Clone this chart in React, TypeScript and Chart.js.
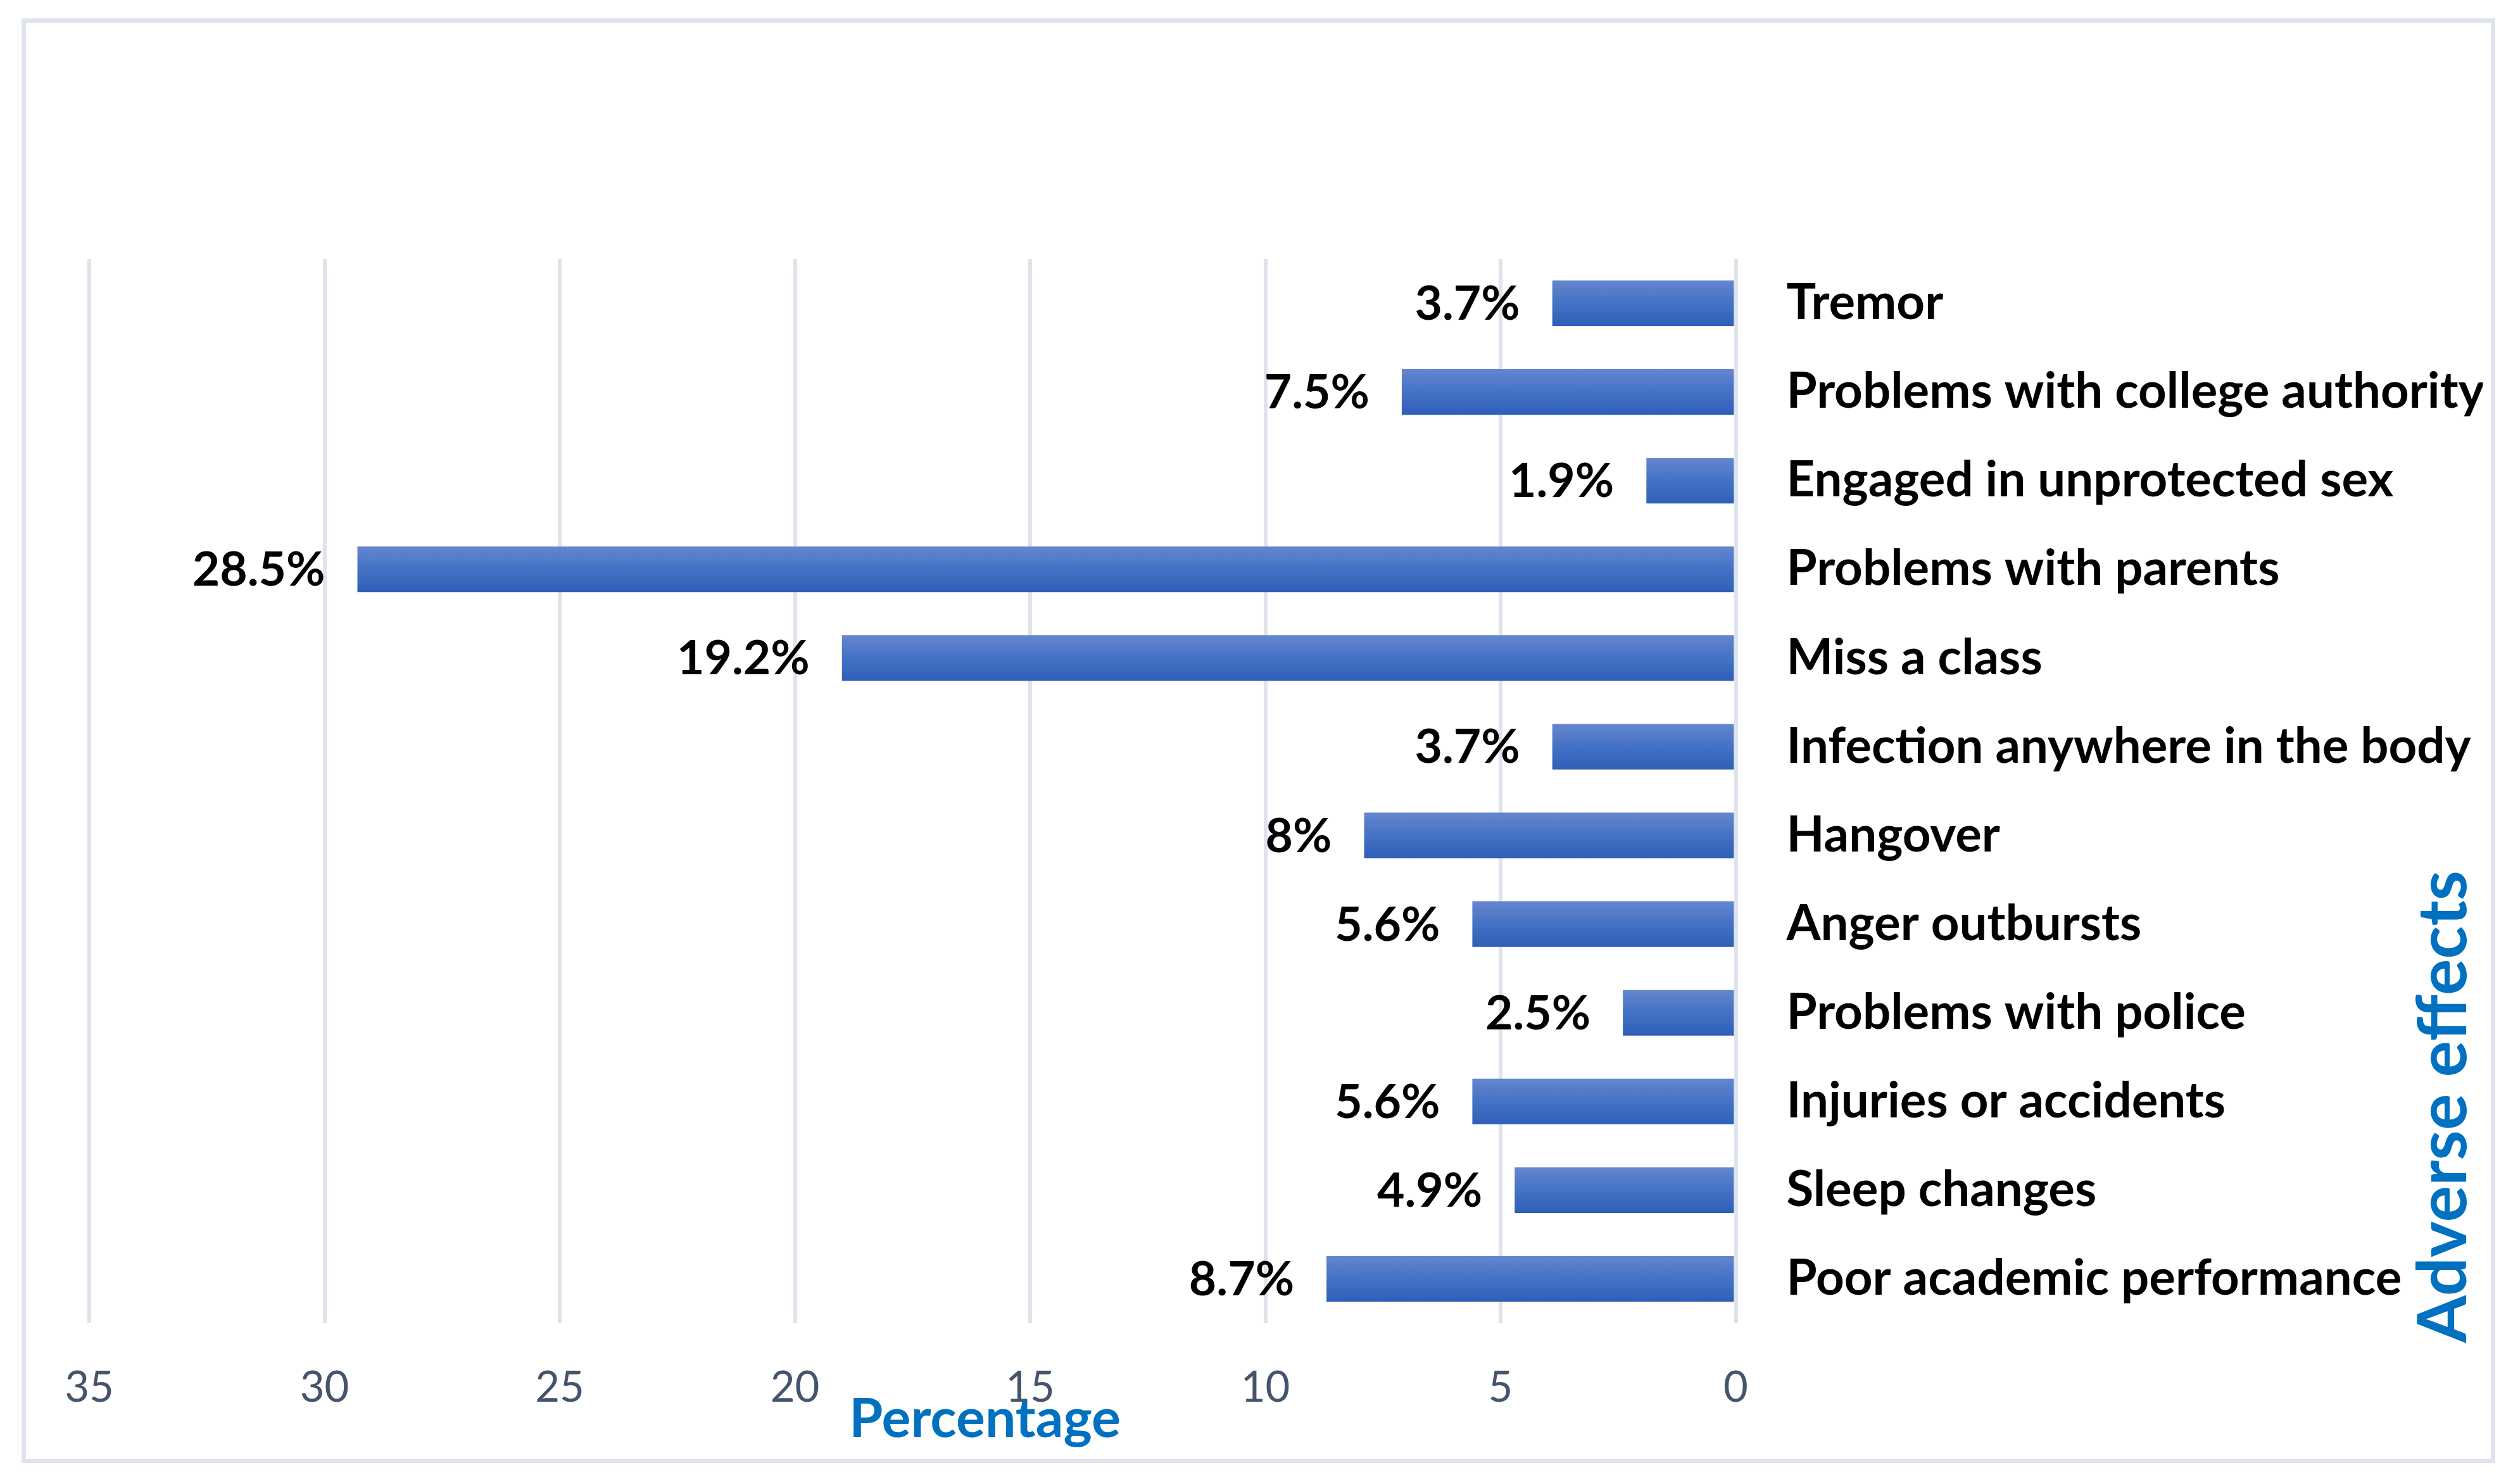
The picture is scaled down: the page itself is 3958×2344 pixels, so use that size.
import { useRef, useEffect } from "react";
import { Chart, registerables } from "chart.js";

Chart.register(...registerables);

// categories, top to bottom
const effects: string[] = [
  "Tremor",
  "Problems with college authority",
  "Engaged in unprotected sex",
  "Problems with parents",
  "Miss a class",
  "Infection anywhere in the body",
  "Hangover",
  "Anger outbursts",
  "Problems with police",
  "Injuries or accidents",
  "Sleep changes",
  "Poor academic performance",
];

// bar lengths as drawn in the picture
const barValues: number[] = [3.9, 7.1, 1.9, 29.3, 19.0, 3.9, 7.9, 5.6, 2.4, 5.6, 4.7, 8.7];

// data labels as printed next to each bar
const barLabels: string[] = [
  "3.7%",
  "7.5%",
  "1.9%",
  "28.5%",
  "19.2%",
  "3.7%",
  "8%",
  "5.6%",
  "2.5%",
  "5.6%",
  "4.9%",
  "8.7%",
];

const xMin = 0;
const xMax = 35;
const xStep = 5;

const W = 3958;
const H = 2344;
const BAR_PCT = 0.514;

const decorPlugin = {
  id: "decor",
  beforeDraw(chart: any) {
    const ctx = chart.ctx;
    ctx.save();
    ctx.strokeStyle = "#DFE3EB";
    ctx.lineWidth = 7;
    ctx.strokeRect(37.5, 32.5, 3900, 2275);
    ctx.restore();
  },
  afterDatasetsDraw(chart: any) {
    const ctx = chart.ctx;
    const meta = chart.getDatasetMeta(0);
    ctx.save();
    ctx.font = "bold 75px Lato";
    ctx.fillStyle = "#000000";
    ctx.textAlign = "right";
    ctx.textBaseline = "alphabetic";
    meta.data.forEach((bar: any, i: number) => {
      ctx.fillText(barLabels[i], bar.x - 51, bar.y + 26);
    });
    ctx.restore();
  },
  afterDraw(chart: any) {
    const ctx = chart.ctx;
    const area = chart.chartArea;
    ctx.save();
    ctx.fillStyle = "#0070C0";
    ctx.textAlign = "center";
    ctx.textBaseline = "alphabetic";

    // x axis title
    ctx.font = "bold 86px Lato";
    ctx.fillText("Percentage", area.left + (area.right - area.left) * 0.544, area.bottom + 180);

    // y axis title, reads bottom to top
    ctx.font = "bold 108px Lato";
    ctx.translate(area.right + 1153, area.bottom - 342);
    ctx.rotate(-Math.PI / 2);
    ctx.fillText("Adverse effects", 0, 0);
    ctx.restore();
  },
};

const barFill = (c: any) => {
  const chart = c.chart;
  const yScale = chart.scales?.y;
  if (!yScale || c.type !== "data") return "#4472C4";
  const mid = yScale.getPixelForValue(c.dataIndex);
  const half = ((yScale.bottom - yScale.top) / effects.length) * BAR_PCT / 2;
  if (!isFinite(mid) || !isFinite(half) || half <= 0) return "#4472C4";
  const g = chart.ctx.createLinearGradient(0, mid - half, 0, mid + half);
  g.addColorStop(0, "#6586CF");
  g.addColorStop(0.5, "#4472C4");
  g.addColorStop(1, "#2E5EB8");
  return g;
};

const AdverseEffectsChart = () => {
  const chartRef = useRef<HTMLCanvasElement | null>(null);

  useEffect(() => {
    const ctx = chartRef.current?.getContext("2d");
    if (!ctx) return;

    Chart.defaults.font.family = "Lato";

    const myChart = new Chart(ctx, {
      type: "bar",
      data: {
        labels: effects,
        datasets: [
          {
            label: "Adverse effects",
            data: barValues,
            barPercentage: BAR_PCT,
            categoryPercentage: 1,
            borderWidth: 0,
            backgroundColor: barFill,
          },
        ],
      },
      options: {
        indexAxis: "y",
        responsive: false,
        maintainAspectRatio: false,
        devicePixelRatio: 1,
        animation: false,
        layout: {
          padding: { left: 141, top: 409, right: 36.5, bottom: 54 },
        },
        plugins: {
          legend: { display: false },
          tooltip: { enabled: false },
        },
        scales: {
          x: {
            type: "linear",
            reverse: true,
            min: xMin,
            max: xMax,
            ticks: {
              stepSize: xStep,
              color: "#44546A",
              font: { size: 67, family: "Lato" },
              padding: 62,
              maxRotation: 0,
              autoSkip: false,
            },
            grid: { color: "#DFE3EB", lineWidth: 6, drawTicks: false },
            border: { display: false },
            afterFit: (s: any) => {
              s.height = 200;
            },
          },
          y: {
            type: "category",
            position: "right",
            ticks: {
              color: "#000000",
              font: { size: 78, weight: "bold", family: "Lato" },
              padding: 80,
              autoSkip: false,
            },
            grid: { display: false, drawTicks: false },
            border: { display: false },
            afterFit: (s: any) => {
              s.width = 1180;
            },
          },
        },
      },
      plugins: [decorPlugin],
    } as any);

    return () => {
      myChart.destroy();
    };
  }, []);

  return <canvas ref={chartRef} width={W} height={H}></canvas>;
};

export default function App() {
  return (
    <div style={{ position: "absolute", left: 0, top: 0, width: W, height: H, background: "#ffffff" }}>
      <AdverseEffectsChart />
    </div>
  );
}
